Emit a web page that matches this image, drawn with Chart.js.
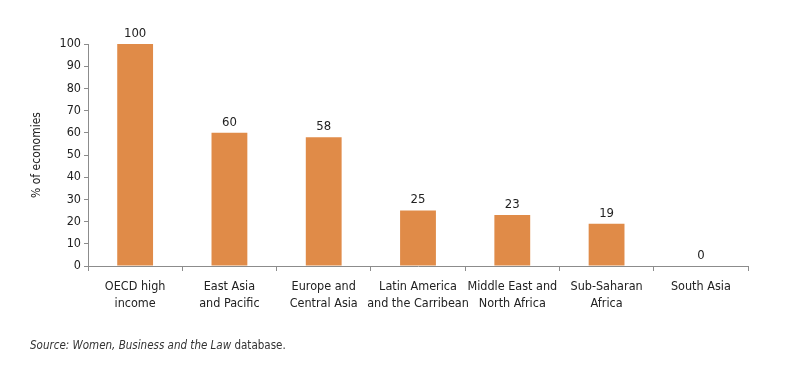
<!DOCTYPE html>
<html>
<head>
<meta charset="utf-8">
<script src="https://cdn.jsdelivr.net/npm/chart.js@4/dist/chart.umd.min.js"></script>
<style>
  html, body { margin: 0; padding: 0; background: #fff; }
  .wrap { position: relative; width: 800px; height: 368px; }
  .source {
    position: absolute; left: 30px; top: 338px;
    font: 11.5px "Liberation Sans Narrow", "DejaVu Sans Condensed", sans-serif;
    color: #333;
  }
</style>
</head>
<body>
<div class="wrap">
  <canvas id="chart" width="800" height="368"></canvas>
  <div class="source"><i>Source: Women, Business and the Law</i> database.</div>
</div>
<script>
const regions = [
  ["OECD high", "income"],
  ["East Asia", "and Pacific"],
  ["Europe and", "Central Asia"],
  ["Latin America", "and the Carribean"],
  ["Middle East and", "North Africa"],
  ["Sub-Saharan", "Africa"],
  ["South Asia"],
];
const shares = [100, 60, 58, 25, 23, 19, 0];
const yTicks = [0, 10, 20, 30, 40, 50, 60, 70, 80, 90, 100];

const fontFamily = '"Liberation Sans Narrow", "DejaVu Sans Condensed", sans-serif';
const barColor = "#e08b48";
const axisColor = "#8c8c8c";

const valueLabels = {
  id: "valueLabels",
  afterDatasetsDraw(chart) {
    const ctx = chart.ctx;
    const meta = chart.getDatasetMeta(0);
    ctx.save();
    ctx.font = "13px " + fontFamily;
    ctx.fillStyle = "#222";
    ctx.textAlign = "center";
    ctx.textBaseline = "bottom";
    meta.data.forEach((bar, i) => {
      ctx.fillText(String(shares[i]), bar.x, bar.y - 4);
    });
    ctx.restore();
  },
};

new Chart(document.getElementById("chart"), {
  type: "bar",
  data: {
    labels: regions,
    datasets: [{
      data: shares,
      backgroundColor: barColor,
      borderWidth: 0,
      categoryPercentage: 1,
      barPercentage: 0.38,
    }],
  },
  options: {
    responsive: false,
    animation: false,
    layout: { padding: { top: 44, right: 52, left: 30, bottom: 0 } },
    plugins: {
      legend: { display: false },
      tooltip: { enabled: false },
    },
    scales: {
      x: {
        grid: {
          offset: true,
          drawOnChartArea: false,
          drawTicks: true,
          tickLength: 5,
          color: axisColor,
        },
        border: { display: true, color: axisColor },
        ticks: {
          color: "#222",
          font: { family: fontFamily, size: 12.5, lineHeight: 1.35 },
          padding: 7,
          maxRotation: 0,
          autoSkip: false,
        },
        afterFit(scale) { scale.height = 102; },
      },
      y: {
        min: 0,
        max: 100,
        afterBuildTicks(scale) { scale.ticks = yTicks.map((v) => ({ value: v })); },
        grid: {
          drawOnChartArea: false,
          drawTicks: true,
          tickLength: 4,
          color: axisColor,
        },
        border: { display: true, color: axisColor },
        ticks: {
          color: "#222",
          font: { family: fontFamily, size: 12.5 },
          padding: 3,
        },
        title: {
          display: true,
          text: "% of economies",
          color: "#222",
          font: { family: fontFamily, size: 12 },
          padding: { top: 0, bottom: 12 },
        },
        afterFit(scale) { scale.width = 58; },
      },
    },
  },
  plugins: [valueLabels],
});
</script>
</body>
</html>
